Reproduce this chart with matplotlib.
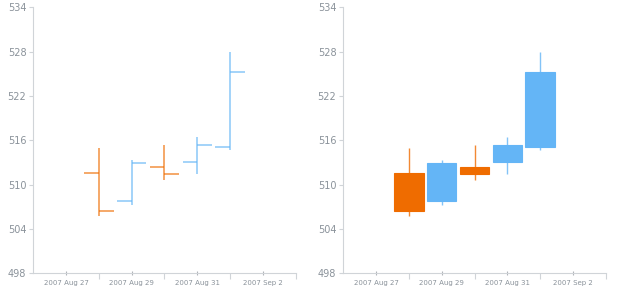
import numpy as np
import matplotlib
matplotlib.use("Agg")
import matplotlib.pyplot as plt
import matplotlib.dates as mdates
from matplotlib.ticker import FuncFormatter, FixedLocator

# daily prices
dates = ["2007-08-28", "2007-08-29", "2007-08-30", "2007-08-31", "2007-09-01"]
opens = [511.6, 507.8, 512.4, 513.1, 515.1]
highs = [515.0, 513.3, 515.4, 516.5, 528.0]
lows = [505.8, 507.3, 510.6, 511.5, 514.7]
closes = [506.4, 512.9, 511.5, 515.3, 525.2]

major_dates = ["2007-08-27", "2007-08-29", "2007-08-31", "2007-09-02"]
minor_dates = ["2007-08-28", "2007-08-30", "2007-09-01", "2007-09-03"]
y_ticks = [498, 504, 510, 516, 522, 528, 534]

up_col = "#64B5F6"
down_col = "#EF6C00"
axis_col = "#d0d4d8"
label_col = "#8a929a"

x = mdates.datestr2num(dates)
o = np.array(opens)
c = np.array(closes)
cols = [up_col if cc >= oo else down_col for oo, cc in zip(o, c)]


def fmt_date(v, pos):
    d = mdates.num2date(v)
    return f"{d.year} {d:%b} {d.day}"


def style_axis(ax):
    ax.set_xlim(mdates.datestr2num("2007-08-26"), mdates.datestr2num("2007-09-03"))
    ax.set_ylim(498, 534)
    ax.set_yticks(y_ticks)
    ax.xaxis.set_major_locator(FixedLocator(mdates.datestr2num(major_dates)))
    ax.xaxis.set_minor_locator(FixedLocator(mdates.datestr2num(minor_dates)))
    ax.xaxis.set_major_formatter(FuncFormatter(fmt_date))
    for s in ["top", "right"]:
        ax.spines[s].set_visible(False)
    for s in ["left", "bottom"]:
        ax.spines[s].set_color(axis_col)
        ax.spines[s].set_linewidth(0.8)
    ax.tick_params(axis="y", colors=axis_col, labelcolor=label_col, labelsize=7, length=3, width=0.8, pad=2)
    ax.tick_params(axis="x", which="major", colors="#b0b4b8", labelcolor=label_col, labelsize=5,
                   length=3, width=0.8, direction="inout", pad=3)
    ax.tick_params(axis="x", which="minor", colors=axis_col, length=4, width=0.8, direction="out")


fig = plt.figure(figsize=(6.2, 3.0), dpi=100)
ax1 = fig.add_axes([33.3 / 620, 1 - 273.3 / 300, 262.4 / 620, 266 / 300])
ax2 = fig.add_axes([343.3 / 620, 1 - 273.3 / 300, 262.4 / 620, 266 / 300])

# OHLC bars
ax1.vlines(x, lows, highs, colors=cols, linewidth=1.1, alpha=0.75)
ax1.hlines(opens, x - 0.45, x, colors=cols, linewidth=1.1, alpha=0.75)
ax1.hlines(closes, x, x + 0.45, colors=cols, linewidth=1.1, alpha=0.75)

# candlesticks
ax2.vlines(x, lows, highs, colors=cols, linewidth=1.0, alpha=0.8)
ax2.bar(x, c - o, bottom=o, width=0.9, color=cols, edgecolor=cols, linewidth=0.8, zorder=3)

style_axis(ax1)
style_axis(ax2)

fig.savefig("out.png", dpi=100)
